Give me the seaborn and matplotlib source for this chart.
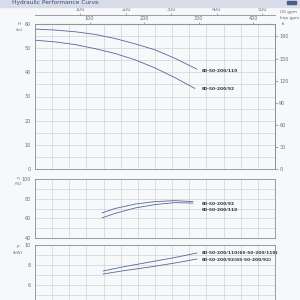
import numpy as np
import pandas as pd
import matplotlib
matplotlib.use("Agg")
import matplotlib.pyplot as plt
from matplotlib.patches import Rectangle
import seaborn as sns

# flow in m3/h
q_head = [0, 10, 20, 30, 40, 50, 60, 70, 81]
h_110 = [57.9, 57.5, 56.8, 55.7, 54.0, 51.8, 49.3, 45.8, 41.3]
q_head92 = [0, 10, 20, 30, 40, 50, 60, 70, 80]
h_92 = [53.3, 52.6, 51.5, 49.8, 47.8, 45.2, 41.8, 37.8, 33.3]

q_eff = [33.5, 40, 50, 60, 70, 79]
eff_92 = [65.5, 70, 74.5, 77, 78, 77]
eff_110 = [60.5, 65, 70.5, 74, 76, 75.5]

q_pow = [34, 45, 57.5, 70, 81]
p_110 = [7.4, 7.85, 8.3, 8.75, 9.2]
p_92 = [7.1, 7.45, 7.8, 8.2, 8.6]

head_labels = ["80-50-200/110", "80-50-200/92"]
eff_labels = ["80-50-200/92", "80-50-200/110"]
pow_labels = ["80-50-200/110(65-50-200/110)", "80-50-200/92(65-50-200/92)"]

head = pd.concat([
    pd.DataFrame({"Q": q_head, "v": h_110, "pump": head_labels[0]}),
    pd.DataFrame({"Q": q_head92, "v": h_92, "pump": head_labels[1]}),
])
eff = pd.concat([
    pd.DataFrame({"Q": q_eff, "v": eff_92, "pump": eff_labels[0]}),
    pd.DataFrame({"Q": q_eff, "v": eff_110, "pump": eff_labels[1]}),
])
powr = pd.concat([
    pd.DataFrame({"Q": q_pow, "v": p_110, "pump": pow_labels[0]}),
    pd.DataFrame({"Q": q_pow, "v": p_92, "pump": pow_labels[1]}),
])

sns.set_style("white")
plt.rcParams["font.family"] = ["DejaVu Sans"]

bg = "#f7f8fa"
line_c = "#56679c"
grid_c = "#cfd2d8"
spine_c = "#8a8d94"
tick_c = "#6a6d74"

fig = plt.figure(figsize=(3, 3), dpi=100, facecolor=bg)

def px(x, y):
    return x / 300, 1 - y / 300

# header band
fig.patches.append(Rectangle((0, 1 - 7 / 300), 1, 7 / 300, transform=fig.transFigure,
                             color="#d8dce8", zorder=0))
fig.patches.append(Rectangle((287 / 300, 1 - 4 / 300), 9 / 300, 3 / 300, transform=fig.transFigure,
                             color="#4a5a8a", zorder=1))
fig.text(*px(12, 2.6), "Hydraulic Performance Curve", fontsize=4.2, color="#3a4a7a", va="center")

ax1 = fig.add_axes([35 / 300, 1 - 169 / 300, 240 / 300, 145 / 300])
ax2 = fig.add_axes([35 / 300, 1 - 238 / 300, 240 / 300, 59 / 300])
ax3 = fig.add_axes([35 / 300, 1 - 345 / 300, 240 / 300, 100 / 300])

xgrid = np.linspace(0, 120, 15)

def style(ax, ylo, yhi, majors, minor):
    ax.set_facecolor(bg)
    ax.set_xlim(0, 120)
    ax.set_ylim(ylo, yhi)
    ax.set_xticks(xgrid)
    ax.set_xticklabels([])
    ax.set_yticks(majors)
    ax.set_yticks(np.arange(ylo, yhi + 0.01, minor), minor=True)
    ax.grid(True, which="both", color=grid_c, linewidth=0.5)
    ax.tick_params(axis="y", which="major", labelsize=3.5, colors=tick_c, length=2, width=0.4, pad=1)
    ax.tick_params(axis="y", which="minor", length=1.2, width=0.4, colors=tick_c)
    ax.tick_params(axis="x", length=0)
    for s in ax.spines.values():
        s.set_color(spine_c)
        s.set_linewidth(0.6)

style(ax1, 0, 60, np.arange(0, 61, 10), 5)
style(ax2, 40, 100, np.arange(40, 101, 20), 10)
style(ax3, 0, 10, [6, 8, 10], 1)

for ax, df, labs, ys in [
    (ax1, head, head_labels, [40.4, 32.9]),
    (ax2, eff, eff_labels, [75, 68]),
    (ax3, powr, pow_labels, [9.2, 8.5]),
]:
    sns.lineplot(data=df, x="Q", y="v", hue="pump", palette=[line_c, line_c],
                 linewidth=0.6, legend=False, ax=ax, sort=False)
    ax.set_xlabel("")
    ax.set_ylabel("")
    for lab, y in zip(labs, ys):
        ax.text(83.5, y, lab, fontsize=3.2, fontweight="bold", color="#333333", va="center")

# secondary axes: ft on the right, gpm on top
m3h_to_imp = 3.66615
m3h_to_us = 4.40287
ft = ax1.secondary_yaxis("right", functions=(lambda m: m / 0.3048, lambda f: f * 0.3048))
ft.set_yticks(np.arange(0, 181, 30))
ft.tick_params(labelsize=3.5, colors=tick_c, length=2, width=0.4, pad=1)
ft.spines["right"].set_color(spine_c)
ft.spines["right"].set_linewidth(0.6)

imp = ax1.secondary_xaxis("top", functions=(lambda q: q * m3h_to_imp, lambda g: g / m3h_to_imp))
imp.set_xticks([100, 200, 300, 400])
imp.tick_params(labelsize=3.5, colors=tick_c, length=1.5, width=0.4, pad=0.5)
imp.spines["top"].set_color(spine_c)

us = ax1.secondary_xaxis(1.062, functions=(lambda q: q * m3h_to_us, lambda g: g / m3h_to_us))
us.set_xticks([100, 200, 300, 400, 500])
us.tick_params(labelsize=3.5, colors=tick_c, length=1.5, width=0.4, pad=0.5)
us.spines["top"].set_color(spine_c)
us.spines["top"].set_linewidth(0.6)

fig.text(*px(280, 12), "US gpm", fontsize=3.2, color=tick_c, va="center")
fig.text(*px(280, 18), "Imp gpm", fontsize=3.2, color=tick_c, va="center")
fig.text(*px(282, 24), "ft", fontsize=3.2, color=tick_c, va="center")

for (x, y, t) in [(19, 24, "H"), (19, 30, "(m)"), (18, 178, "η"), (18, 184, "(%)"),
                  (18, 247, "P"), (18, 253, "(kW)")]:
    fig.text(*px(x, y), t, fontsize=3.2, color=tick_c, va="center", ha="center")

fig.savefig("out.png", dpi=100, facecolor=bg)
